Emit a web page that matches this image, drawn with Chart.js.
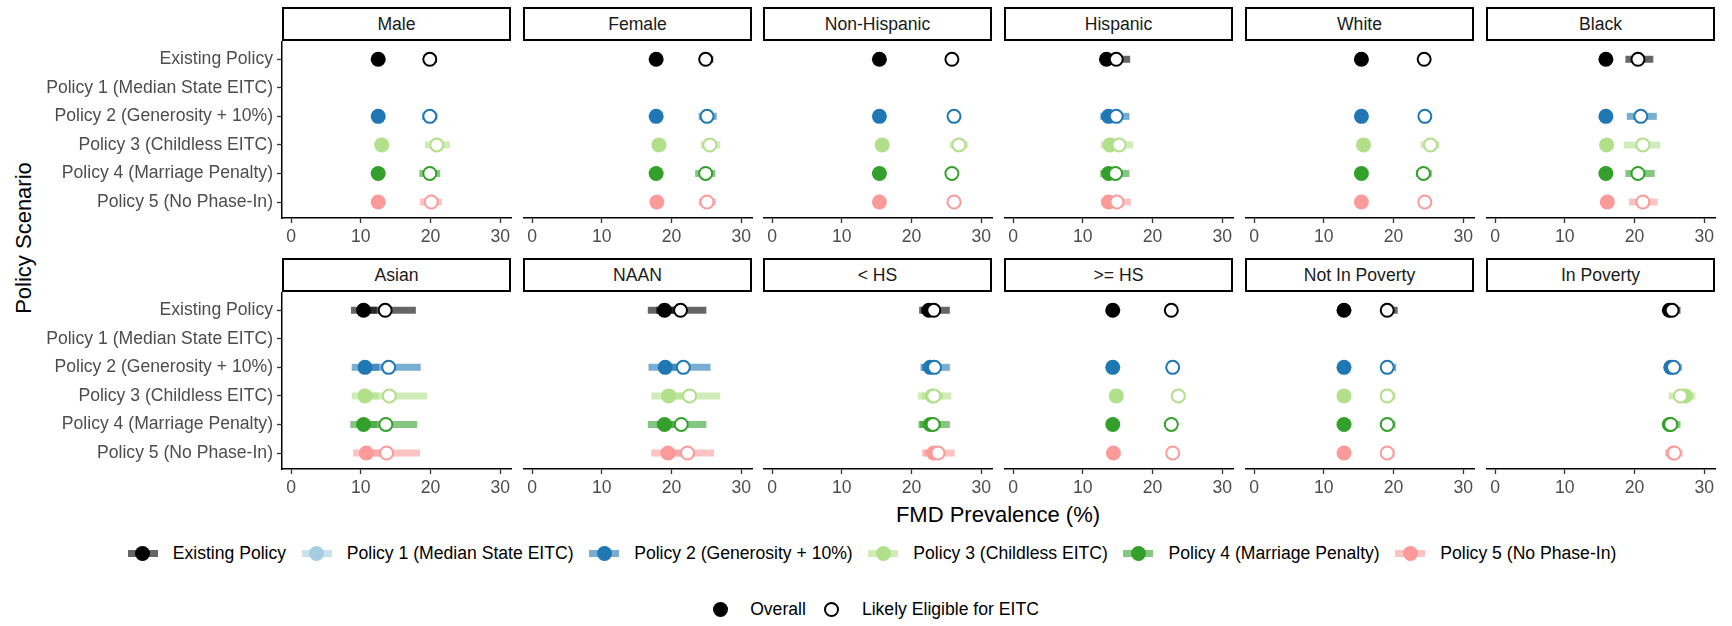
<!DOCTYPE html>
<html>
<head>
<meta charset="utf-8">
<script src="https://cdn.jsdelivr.net/npm/chart.js@4.4.1/dist/chart.umd.min.js"></script>
<style>
  body { margin: 0; background: #fff; width: 1732px; height: 626px; position: relative; overflow: hidden;
         font-family: 'Liberation Sans', Arial, sans-serif; }
  canvas { position: absolute; }
  .strip { position: absolute; box-sizing: border-box; border: 2px solid #000; display: flex;
           align-items: center; justify-content: center; font-size: 17.6px; color: #1a1a1a; background: #fff; }
  .title { position: absolute; font-size: 22px; line-height: 26px; text-align: center; color: #000; }
  .legend { position: absolute; left: 0; width: 1744px; height: 20px; display: flex;
            justify-content: center; align-items: center; font-size: 17.6px; color: #000; }
  .item { display: flex; align-items: center; margin: 0 7.8px; }
  .key { position: relative; width: 30px; height: 16px; margin-right: 15px; }
  .key .bar { position: absolute; left: 0; top: 4.5px; width: 30px; height: 7px; }
  .key .dot { position: absolute; left: 7.5px; top: 0.5px; width: 15px; height: 15px; border-radius: 50%; box-sizing: border-box; }
  #leg2 .item { margin: 0 5.5px; }
</style>
</head>
<body>
<div class="title" style="left:-126px;top:225px;width:300px;transform:rotate(-90deg);">Policy Scenario</div>
<div class="title" style="left:798px;top:502px;width:400px;">FMD Prevalence (%)</div>
<div class="legend" id="leg1" style="top:543px;"></div>
<div class="legend" id="leg2" style="top:599px;"></div>
<script>
const policies = ['Existing Policy', 'Policy 1 (Median State EITC)', 'Policy 2 (Generosity + 10%)',
  'Policy 3 (Childless EITC)', 'Policy 4 (Marriage Penalty)', 'Policy 5 (No Phase-In)'];
const policyColors = ['#000000', '#A6CEE3', '#1F78B4', '#B2DF8A', '#33A02C', '#FB9A99'];
const groups = ['Male', 'Female', 'Non-Hispanic', 'Hispanic', 'White', 'Black',
  'Asian', 'NAAN', '< HS', '>= HS', 'Not In Poverty', 'In Poverty'];
const xTicks = [0, 10, 20, 30];
const sampleLabels = ['Overall', 'Likely Eligible for EITC'];

// one row per group, one column per policy (Policy 1 has no estimates)
const overallEst = [
  [12.5, null, 12.5, 13.0, 12.5, 12.5],
  [17.8, null, 17.8, 18.2, 17.8, 17.9],
  [15.4, null, 15.4, 15.8, 15.4, 15.4],
  [13.4, null, 13.7, 13.9, 13.7, 13.7],
  [15.4, null, 15.4, 15.7, 15.4, 15.4],
  [15.9, null, 15.9, 16.0, 15.9, 16.1],
  [10.4, null, 10.6, 10.6, 10.4, 10.8],
  [19.0, null, 19.1, 19.6, 19.0, 19.5],
  [22.5, null, 22.7, 23.0, 22.7, 23.2],
  [14.3, null, 14.3, 14.8, 14.3, 14.4],
  [12.9, null, 12.9, 12.9, 12.9, 12.9],
  [25.0, null, 25.2, 27.3, 25.0, 25.6]
];
const overallLo = [
  [12.2, null, 12.2, 12.6, 12.2, 12.2],
  [17.5, null, 17.5, 17.9, 17.5, 17.6],
  [15.1, null, 15.1, 15.5, 15.1, 15.1],
  [12.5, null, 12.5, 12.6, 12.5, 12.6],
  [15.1, null, 15.1, 15.4, 15.1, 15.1],
  [15.4, null, 15.4, 15.5, 15.4, 15.6],
  [8.6, null, 8.7, 8.7, 8.5, 8.9],
  [16.6, null, 16.7, 17.1, 16.6, 17.1],
  [21.1, null, 21.3, 21.5, 21.2, 21.8],
  [14.0, null, 14.0, 14.5, 14.0, 14.1],
  [12.6, null, 12.6, 12.6, 12.6, 12.6],
  [24.2, null, 24.4, 25.9, 24.2, 24.8]
];
const overallHi = [
  [12.8, null, 12.8, 13.4, 12.8, 12.8],
  [18.1, null, 18.1, 18.5, 18.1, 18.2],
  [15.7, null, 15.7, 16.1, 15.7, 15.7],
  [14.4, null, 14.7, 15.0, 14.7, 14.8],
  [15.7, null, 15.7, 16.0, 15.7, 15.7],
  [16.4, null, 16.4, 16.5, 16.4, 16.6],
  [12.3, null, 12.6, 12.6, 12.4, 12.8],
  [21.5, null, 21.6, 22.2, 21.5, 22.0],
  [23.9, null, 24.1, 24.5, 24.2, 24.6],
  [14.6, null, 14.6, 15.1, 14.6, 14.7],
  [13.2, null, 13.2, 13.2, 13.2, 13.2],
  [25.8, null, 26.0, 28.7, 25.8, 26.4]
];
const eligEst = [
  [19.9, null, 19.9, 20.9, 19.9, 20.1],
  [24.9, null, 25.1, 25.5, 24.9, 25.1],
  [25.8, null, 26.1, 26.8, 25.8, 26.1],
  [14.8, null, 14.8, 15.2, 14.7, 14.9],
  [24.4, null, 24.5, 25.3, 24.3, 24.5],
  [20.5, null, 20.9, 21.2, 20.5, 21.2],
  [13.5, null, 14.0, 14.1, 13.6, 13.7],
  [21.3, null, 21.7, 22.6, 21.4, 22.3],
  [23.2, null, 23.3, 23.2, 23.1, 23.8],
  [22.7, null, 22.9, 23.7, 22.7, 22.9],
  [19.1, null, 19.1, 19.1, 19.1, 19.1],
  [25.4, null, 25.6, 26.6, 25.2, 25.7]
];
const eligLo = [
  [19.0, null, 18.8, 19.2, 18.4, 18.5],
  [24.0, null, 23.9, 24.2, 23.4, 23.9],
  [25.2, null, 25.4, 25.5, 25.1, 25.3],
  [13.0, null, 13.0, 13.3, 13.0, 13.1],
  [23.8, null, 23.9, 23.9, 23.2, 23.9],
  [18.7, null, 18.9, 18.5, 18.7, 19.2],
  [9.9, null, 10.2, 10.2, 10.0, 10.3],
  [17.8, null, 18.2, 18.7, 17.9, 18.6],
  [21.4, null, 21.5, 20.9, 21.0, 21.5],
  [22.2, null, 22.4, 23.1, 22.2, 22.4],
  [18.4, null, 18.5, 18.5, 18.5, 18.5],
  [24.3, null, 24.5, 24.9, 24.2, 24.4]
];
const eligHi = [
  [20.9, null, 21.0, 22.8, 21.4, 21.6],
  [26.0, null, 26.5, 27.0, 26.3, 26.4],
  [26.4, null, 26.8, 28.1, 26.5, 26.9],
  [16.8, null, 16.7, 17.2, 16.7, 16.9],
  [25.0, null, 25.1, 26.6, 25.5, 25.2],
  [22.7, null, 23.2, 23.7, 22.9, 23.3],
  [17.9, null, 18.6, 19.5, 18.1, 18.5],
  [25.0, null, 25.6, 27.0, 25.0, 26.1],
  [25.5, null, 25.5, 25.7, 25.5, 26.2],
  [23.2, null, 23.4, 24.3, 23.2, 23.4],
  [20.6, null, 20.4, 20.3, 20.3, 20.2],
  [26.6, null, 26.8, 28.3, 26.6, 26.9]
];

const PANEL_W = 229, PANEL_H = 177, STRIP_H = 34, AXIS_H = 40, PAD_R = 10;
const colLeft = [282, 523, 763, 1004, 1245, 1486];
const rowTop = [41, 292];

Chart.defaults.font.family = "'Liberation Sans', Arial, sans-serif";

function rgba(hex, a) {
  const n = parseInt(hex.slice(1), 16);
  return `rgba(${n >> 16},${(n >> 8) & 255},${n & 255},${a})`;
}

function buildPanel(k) {
  const col = k % 6, row = Math.floor(k / 6);
  const yW = col === 0 ? colLeft[0] : 0;

  const strip = document.createElement('div');
  strip.className = 'strip';
  strip.textContent = groups[k];
  Object.assign(strip.style, { left: colLeft[col] + 'px', top: (rowTop[row] - STRIP_H) + 'px',
    width: PANEL_W + 'px', height: STRIP_H + 'px' });
  document.body.appendChild(strip);

  const cv = document.createElement('canvas');
  cv.width = yW + PANEL_W + PAD_R;
  cv.height = PANEL_H + AXIS_H;
  cv.style.left = (colLeft[col] - yW) + 'px';
  cv.style.top = rowTop[row] + 'px';
  document.body.appendChild(cv);

  const datasets = [];
  const idx = policies.map((p, i) => i).filter(i => overallEst[k][i] != null);
  idx.forEach(i => {
    [[overallLo, overallHi], [eligLo, eligHi]].forEach(([lo, hi]) => datasets.push({
      type: 'line',
      data: [{ x: lo[k][i], y: i }, { x: hi[k][i], y: i }],
      borderColor: rgba(policyColors[i], 0.6), borderWidth: 7, borderCapStyle: 'butt',
      pointRadius: 0, order: 3
    }));
  });
  datasets.push({
    type: 'scatter', data: idx.map(i => ({ x: overallEst[k][i], y: i })),
    pointRadius: 7.5, pointBackgroundColor: idx.map(i => policyColors[i]), pointBorderWidth: 0, order: 2
  });
  datasets.push({
    type: 'scatter', data: idx.map(i => ({ x: eligEst[k][i], y: i })),
    pointRadius: 6.5, pointBackgroundColor: '#ffffff', pointBorderColor: idx.map(i => policyColors[i]),
    pointBorderWidth: 2, order: 1
  });

  new Chart(cv, {
    type: 'scatter',
    data: { datasets },
    options: {
      responsive: false, animation: false, events: [], devicePixelRatio: 1,
      layout: { padding: { left: 0, right: PAD_R, top: 0, bottom: 0 }, autoPadding: false },
      plugins: { legend: { display: false }, tooltip: { enabled: false } },
      scales: {
        x: {
          type: 'linear', min: -1.3, max: 31.55,
          afterBuildTicks: s => { s.ticks = xTicks.map(v => ({ value: v })); },
          afterFit: s => { s.height = AXIS_H; s.paddingLeft = 0; s.paddingRight = 0; },
          ticks: { color: '#4d4d4d', font: { size: 17.6 }, padding: 4, maxRotation: 0, autoSkip: false },
          grid: { drawOnChartArea: false, drawTicks: true, tickLength: 5, tickColor: '#333333', tickWidth: 1.3 },
          border: { display: true, color: '#000000', width: 1.5 }
        },
        y: {
          type: 'linear', reverse: true, min: -0.64, max: 5.56, display: col === 0,
          afterBuildTicks: s => { s.ticks = policies.map((p, i) => ({ value: i })); },
          afterFit: s => { s.width = yW; s.paddingTop = 0; s.paddingBottom = 0; },
          ticks: { color: '#4d4d4d', font: { size: 17.6 }, padding: 4, autoSkip: false,
                   callback: v => policies[v] },
          grid: { drawOnChartArea: false, drawTicks: true, tickLength: 5, tickColor: '#333333', tickWidth: 1.3 },
          border: { display: true, color: '#000000', width: 1.5 }
        }
      }
    }
  });
}

groups.forEach((g, k) => buildPanel(k));

// legends
const leg1 = document.getElementById('leg1');
policies.forEach((p, i) => {
  const it = document.createElement('div');
  it.className = 'item';
  it.innerHTML = `<span class="key"><span class="bar" style="background:${rgba(policyColors[i], 0.6)}"></span>` +
    `<span class="dot" style="background:${policyColors[i]}"></span></span><span></span>`;
  it.lastChild.textContent = p;
  leg1.appendChild(it);
});
const leg2 = document.getElementById('leg2');
sampleLabels.forEach((s, j) => {
  const it = document.createElement('div');
  it.className = 'item';
  const dotStyle = j === 0 ? 'background:#000' : 'background:#fff;border:2px solid #000';
  it.innerHTML = `<span class="key"><span class="dot" style="${dotStyle}"></span></span><span></span>`;
  it.lastChild.textContent = s;
  leg2.appendChild(it);
});
</script>
</body>
</html>
